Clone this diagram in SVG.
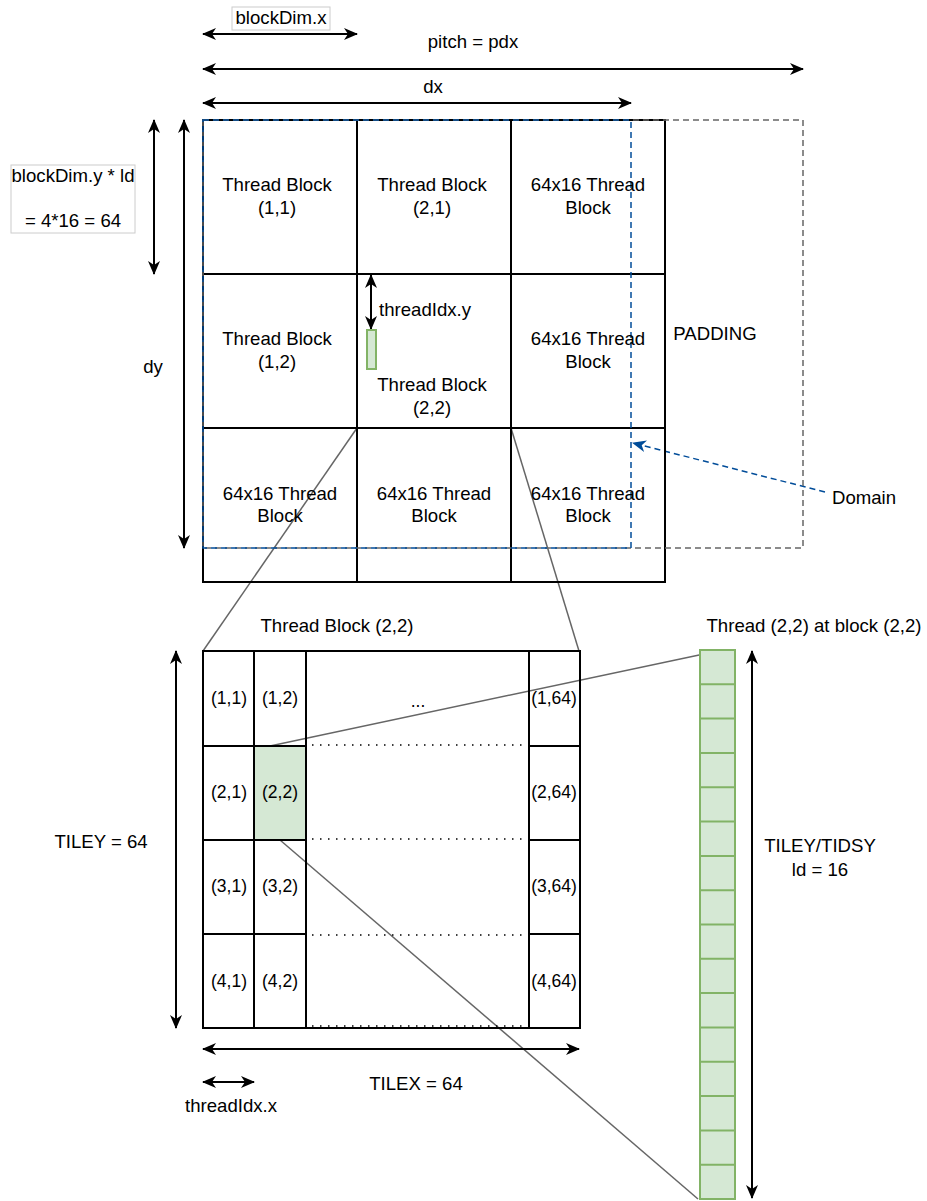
<svg xmlns="http://www.w3.org/2000/svg" width="927" height="1201" viewBox="0 0 927 1201">
<style>
text{font-family:"Liberation Sans",Arial,sans-serif;font-size:18.6px;fill:#000;text-anchor:middle}
.sm{font-size:17.5px}
.grid{fill:none;stroke:#000;stroke-width:2}
.arr{stroke:#000;stroke-width:2;fill:none;marker-start:url(#ah);marker-end:url(#ah)}
.conn{stroke:#666;stroke-width:1.5;fill:none}
.green{fill:#d5e8d4;stroke:#82b366;stroke-width:2}
.dots{stroke:#000;stroke-width:1.5;stroke-dasharray:1.5 6.5;fill:none}
.lbl{fill:#fff;stroke:#ccc;stroke-width:1}
</style>
<defs>
<marker id="ah" viewBox="0 0 14 12" refX="13" refY="6" markerWidth="14" markerHeight="12" markerUnits="userSpaceOnUse" orient="auto-start-reverse">
<path d="M0,0 L14,6 L0,12 L4,6 Z" fill="#000"/>
</marker>
<marker id="ahb" viewBox="0 0 14 12" refX="13" refY="6" markerWidth="14" markerHeight="12" markerUnits="userSpaceOnUse" orient="auto">
<path d="M0,0 L14,6 L0,12 L4,6 Z" fill="#004C99"/>
</marker>
</defs>
<rect width="927" height="1201" fill="#fff"/>

<g id="connectors">
<line class="conn" x1="357" y1="428" x2="203" y2="651"/>
<line class="conn" x1="511" y1="428" x2="579" y2="651"/>
<line class="conn" x1="270" y1="746" x2="718" y2="651"/>
<line class="conn" x1="280" y1="840" x2="698" y2="1199"/>
<path d="M825,492 L633,443" stroke="#004C99" stroke-width="1.5" stroke-dasharray="6 4" fill="none" marker-end="url(#ahb)"/>
<line class="arr" x1="203" y1="34" x2="357" y2="34"/>
<line class="arr" x1="203" y1="69" x2="803" y2="69"/>
<line class="arr" x1="203" y1="103" x2="631" y2="103"/>
<line class="arr" x1="154" y1="120" x2="154" y2="274"/>
<line class="arr" x1="184" y1="120" x2="184" y2="548"/>
<line class="arr" x1="371" y1="275" x2="371" y2="329"/>
<line class="arr" x1="176" y1="651" x2="176" y2="1028"/>
<line class="arr" x1="203" y1="1049" x2="579" y2="1049"/>
<line class="arr" x1="203" y1="1082" x2="254" y2="1082"/>
<line class="arr" x1="752" y1="651" x2="752" y2="1198"/>
</g>

<g id="top-grid">
<rect class="grid" x="203" y="120" width="462" height="462"/>
<line class="grid" x1="357" y1="120" x2="357" y2="582"/>
<line class="grid" x1="511" y1="120" x2="511" y2="582"/>
<line class="grid" x1="203" y1="274" x2="665" y2="274"/>
<line class="grid" x1="203" y1="428" x2="665" y2="428"/>
</g>
<g id="padding">
<rect x="203" y="120" width="600" height="428" fill="none" stroke="#666" stroke-width="1.5" stroke-dasharray="6 4"/>
<text x="715" y="340">PADDING</text>
</g>
<g id="domain">
<rect x="203" y="120" width="428" height="428" fill="none" stroke="#004C99" stroke-width="1.5" stroke-dasharray="6 4"/>
<text x="864" y="504">Domain</text>
</g>

<g id="block-1-1"><text x="277" y="191">Thread Block</text><text x="277" y="214">(1,1)</text></g>
<g id="block-2-1"><text x="432" y="191">Thread Block</text><text x="432" y="214">(2,1)</text></g>
<g id="block-3-1"><text x="588" y="191">64x16 Thread</text><text x="588" y="214">Block</text></g>
<g id="block-1-2"><text x="277" y="345">Thread Block</text><text x="277" y="368">(1,2)</text></g>
<g id="block-2-2"><text x="432" y="391">Thread Block</text><text x="432" y="414">(2,2)</text>
<rect class="green" x="367" y="330" width="9" height="39" stroke-width="1.5"/>
<text x="379" y="316" style="text-anchor:start">threadIdx.y</text></g>
<g id="block-3-2"><text x="588" y="345">64x16 Thread</text><text x="588" y="368">Block</text></g>
<g id="block-1-3"><text x="280" y="500">64x16 Thread</text><text x="280" y="522">Block</text></g>
<g id="block-2-3"><text x="434" y="500">64x16 Thread</text><text x="434" y="522">Block</text></g>
<g id="block-3-3"><text x="588" y="500">64x16 Thread</text><text x="588" y="522">Block</text></g>

<g id="label-blockdimx"><rect class="lbl" x="232" y="7" width="98" height="23"/><text x="281" y="24">blockDim.x</text></g>
<g id="label-pitch"><text x="473" y="48">pitch = pdx</text></g>
<g id="label-dx"><text x="433" y="93">dx</text></g>
<g id="label-blockdimy"><rect class="lbl" x="11" y="165" width="124" height="68"/><text x="73" y="182">blockDim.y * ld</text><text x="73" y="227">= 4*16 = 64</text></g>
<g id="label-dy"><text x="153" y="373">dy</text></g>

<g id="thread-block-detail">
<text x="337" y="632">Thread Block (2,2)</text>
<rect class="grid" x="203" y="651" width="377" height="377"/>
<rect class="green" x="254" y="746" width="52" height="94"/>
<line class="grid" x1="254" y1="651" x2="254" y2="1028"/>
<line class="grid" x1="306" y1="651" x2="306" y2="1028"/>
<line class="grid" x1="529" y1="651" x2="529" y2="1028"/>
<line class="grid" x1="203" y1="746" x2="306" y2="746"/>
<line class="grid" x1="203" y1="840" x2="306" y2="840"/>
<line class="grid" x1="203" y1="934" x2="306" y2="934"/>
<line class="grid" x1="529" y1="746" x2="580" y2="746"/>
<line class="grid" x1="529" y1="840" x2="580" y2="840"/>
<line class="grid" x1="529" y1="934" x2="580" y2="934"/>
<line class="dots" x1="312" y1="745" x2="525" y2="745"/>
<line class="dots" x1="312" y1="839" x2="525" y2="839"/>
<line class="dots" x1="312" y1="935" x2="525" y2="935"/>
<line class="dots" x1="312" y1="1026" x2="525" y2="1026"/>
<text class="sm" x="418" y="707">...</text>
<text class="sm" x="229" y="704">(1,1)</text><text class="sm" x="280" y="704">(1,2)</text><text class="sm" x="554" y="704">(1,64)</text>
<text class="sm" x="229" y="798">(2,1)</text><text class="sm" x="280" y="798">(2,2)</text><text class="sm" x="554" y="798">(2,64)</text>
<text class="sm" x="229" y="892">(3,1)</text><text class="sm" x="280" y="892">(3,2)</text><text class="sm" x="554" y="892">(3,64)</text>
<text class="sm" x="229" y="987">(4,1)</text><text class="sm" x="280" y="987">(4,2)</text><text class="sm" x="554" y="987">(4,64)</text>
</g>
<g id="label-tiley"><text x="101" y="848">TILEY = 64</text></g>
<g id="label-tilex"><text x="416" y="1090">TILEX = 64</text></g>
<g id="label-threadidxx"><text x="231" y="1112">threadIdx.x</text></g>

<g id="thread-column">
<text x="814" y="632">Thread (2,2) at block (2,2)</text>
<rect class="green" x="700" y="650" width="35" height="549"/>
<path d="M700,684.3H735M700,718.6H735M700,752.9H735M700,787.3H735M700,821.6H735M700,855.9H735M700,890.2H735M700,924.5H735M700,958.8H735M700,993.1H735M700,1027.4H735M700,1061.8H735M700,1096.1H735M700,1130.4H735M700,1164.7H735" stroke="#82b366" stroke-width="2" fill="none"/>
</g>
<g id="label-tidsy"><text x="820" y="852">TILEY/TIDSY</text><text x="820" y="876">ld = 16</text></g>
</svg>
